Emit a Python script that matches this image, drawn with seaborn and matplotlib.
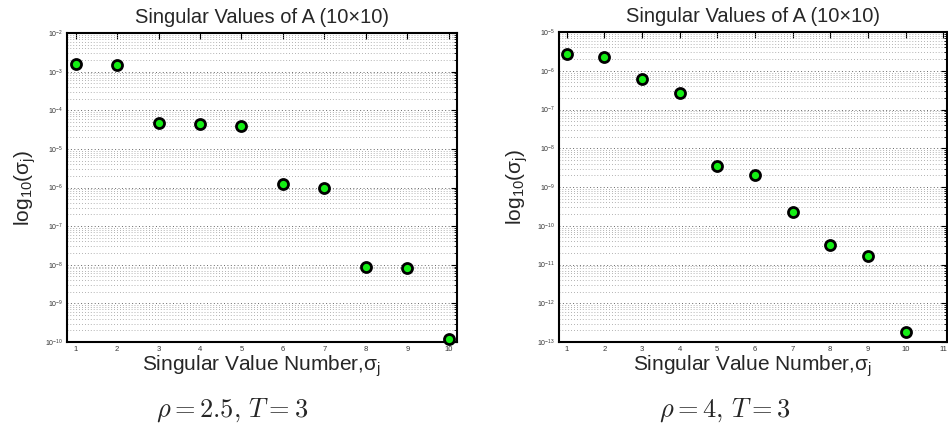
import numpy as np
import pandas as pd
import matplotlib
matplotlib.use("Agg")
import matplotlib.pyplot as plt
import seaborn as sns
from matplotlib.ticker import LogLocator, NullFormatter

# ---- data ----
idx_left = [1, 2, 3, 4, 5, 6, 7, 8, 9, 10]
sv_left = [1.55e-3, 1.48e-3, 4.6e-5, 4.3e-5, 3.9e-5, 1.26e-6, 9.5e-7, 8.5e-9, 8.0e-9, 1.23e-10]
idx_right = [1, 2, 3, 4, 5, 6, 7, 8, 9, 10]
sv_right = [2.75e-6, 2.3e-6, 6.1e-7, 2.7e-7, 3.5e-9, 2.05e-9, 2.2e-10, 3.2e-11, 1.66e-11, 1.86e-13]
xticks_left = [1, 2, 3, 4, 5, 6, 7, 8, 9, 10]
xticks_right = [1, 2, 3, 4, 5, 6, 7, 8, 9, 10, 11]
title = "Singular Values of A (10\u00d710)"
xlabel = "Singular Value Number,\u03c3$_{\\rm j}$"
ylabel = "log$_{10}$(\u03c3$_{\\rm j}$)"
captions = [r"$\rho = 2.5,\, T = 3$", r"$\rho = 4,\, T = 3$"]

sns.set_style("white")
plt.rcParams['font.family'] = ['Liberation Sans', 'DejaVu Sans']
plt.rcParams['mathtext.fontset'] = 'custom'
plt.rcParams['mathtext.rm'] = 'Liberation Sans'
plt.rcParams['mathtext.it'] = 'Liberation Sans:italic'

fig = plt.figure(figsize=(9.48, 4.28), dpi=100)
W, H = 948, 428

def px_axes(l, t, r, b):
    return fig.add_axes([l / W, 1 - b / H, (r - l) / W, (b - t) / H])

ax1 = px_axes(67, 33, 457, 342)
ax2 = px_axes(559, 32, 947, 342)

specs = [
    (ax1, idx_left, sv_left, (0.79, 10.2), (1e-10, 1e-2), xticks_left),
    (ax2, idx_right, sv_right, (0.8, 11.1), (1e-13, 1e-5), xticks_right),
]

for ax, xi, yv, xlim, ylim, xt in specs:
    df = pd.DataFrame({"n": xi, "sv": yv})
    sns.scatterplot(data=df, x="n", y="sv", ax=ax, s=52, color="#14ee14",
                    edgecolor="black", linewidth=2.0, zorder=3, clip_on=False)
    ax.set_yscale("log")
    ax.set_xlim(*xlim)
    ax.set_ylim(*ylim)
    ax.set_xticks(xt)
    ax.set_xticklabels([str(v) for v in xt])
    ax.yaxis.set_major_locator(LogLocator(base=10, numticks=20))
    ax.yaxis.set_minor_locator(LogLocator(base=10, subs=np.arange(2, 10), numticks=20))
    ax.yaxis.set_minor_formatter(NullFormatter())
    ax.grid(True, which="major", axis="y", linestyle=(0, (1, 2.5)), color="#666666", linewidth=0.7)
    ax.grid(True, which="minor", axis="y", linestyle=(0, (1, 2.5)), color="#999999", linewidth=0.6)
    ax.grid(False, axis="x")
    ax.tick_params(axis="both", which="both", direction="in", top=True, right=True,
                   colors="black", labelcolor="#333333")
    ax.tick_params(axis="both", which="major", length=4, width=0.8, labelsize=5.5, pad=3)
    ax.tick_params(axis="y", which="minor", length=2, width=0.6)
    ax.tick_params(axis="y", which="major", labelsize=5)
    for sp in ax.spines.values():
        sp.set_color("black")
        sp.set_linewidth(1.5)
    ax.set_title(title, fontsize=14.5, pad=7)
    ax.set_xlabel(xlabel, fontsize=15, labelpad=0)
    ax.set_ylabel(ylabel, fontsize=15, labelpad=5)

fig.text(232 / W, 1 - 410 / H, captions[0], fontsize=19, ha="center", va="center",
         math_fontfamily="cm")
fig.text(725 / W, 1 - 410 / H, captions[1], fontsize=19, ha="center", va="center",
         math_fontfamily="cm")

fig.savefig("out.png", dpi=100, facecolor="white")
